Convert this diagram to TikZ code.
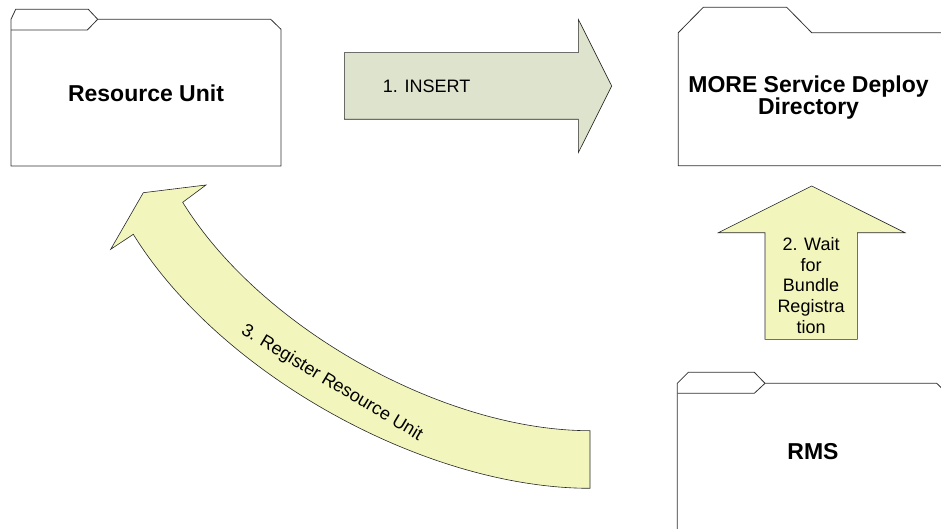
\documentclass[tikz,border=0pt]{standalone}
\usepackage{fontspec}
\setmainfont{Liberation Sans}
\usepackage{tikz}
\usetikzlibrary{positioning,calc}
\usepackage{xcolor}
\definecolor{insertgreen}{RGB}{221,227,204}
\definecolor{waityellow}{RGB}{243,246,188}

\begin{document}
\begin{tikzpicture}[
  x=1pt,
  y=-1pt,
  folder/.style={draw=black!80,line width=.8pt,fill=white},
  blockarrow/.style={draw=black!85,line width=.6pt},
  foldertext/.style={align=center,inner sep=0pt,
    font=\bfseries\fontsize{23}{22}\selectfont},
  steptext/.style={align=center,inner sep=0pt,
    font=\fontsize{18}{20.8}\selectfont}
]
\clip (0,0) rectangle (941,529);

% folders
\draw[folder] (11,166) -- (11,19.3) -- (15.7,9.3) -- (88.3,9.3) -- (97.7,19.3)
  -- (270.7,19.3) -- (281,29.3) -- (281,166) -- cycle;
\draw[folder] (11,30) -- (87.3,30) -- (97.7,19.3);
\node[foldertext] (unit) at (146,93) {Resource Unit};

\draw[folder] (678.3,165.7) -- (678.3,32.7) -- (703.3,7.3) -- (786.7,7.3)
  -- (811.7,32.7) -- (950,32.7) -- (950,165.7) -- cycle;
\node[foldertext] (deploy) at (808.5,97.5) {MORE Service Deploy\\Directory};

\draw[folder] (677.3,540) -- (677.3,383.3) -- (688.3,372.3) -- (754.3,372.3)
  -- (765,383.3) -- (936.7,383.3) -- (947,393.3) -- (947,540) -- cycle;
\draw[folder] (677.3,393.3) -- (754.3,393.3) -- (765,383.3);
\node[foldertext] (rms) at (813,452) {RMS};

% step arrows
\draw[blockarrow,fill=insertgreen] (344.3,52.7) -- (578.3,52.7) -- (578.3,19.3)
  -- (611.7,86) -- (578.3,152.7) -- (578.3,119.3) -- (344.3,119.3) -- cycle;
\node[steptext,anchor=west] (insert) at (382.7,86.2) {1. INSERT};

\draw[blockarrow,fill=waityellow] (765,339.3) -- (765,232.7) -- (718.3,232.7)
  -- (811.7,186) -- (905,232.7) -- (857.3,232.7) -- (857.3,339.3) -- cycle;
\node[steptext] (wait) at (811,285.5) {2. Wait\\for\\Bundle\\Registra\\tion};

\draw[blockarrow,fill=waityellow] (590,430.7)
  .. controls (443.5,430.7) and (260.2,327.9) .. (182.7,202.3)
  -- (206,185) -- (143.3,192.7) -- (110.7,249.3) -- (133.3,234.3)
  .. controls (219.5,374) and (425,488.3) .. (590,488.3) -- cycle;
\node[steptext,rotate=-31] (register) at (331.7,383.3) {3. Register Resource Unit};

\end{tikzpicture}
\end{document}
